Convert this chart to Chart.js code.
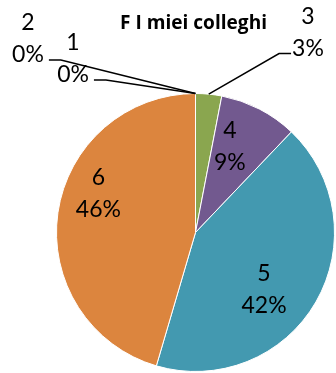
<!DOCTYPE html>
<html><head><meta charset="utf-8">
<script src="https://cdn.jsdelivr.net/npm/chart.js@4/dist/chart.umd.min.js"></script>
<style>html,body{margin:0;padding:0;background:#fff}#wrap{width:336px;height:373px;position:relative}</style>
</head><body><div id="wrap"><canvas id="c" width="336" height="373"></canvas></div>
<script>
const titleText = 'F I miei colleghi';
const categories = ['1', '2', '3', '4', '5', '6'];
const values = [0, 0, 1, 3, 14, 15];
const percentLabels = ['0%', '0%', '3%', '9%', '42%', '46%'];
const sliceColors = ['#4A7EBB', '#BE4B48', '#8AA64F', '#72598F', '#4399B0', '#DC853E'];

const FONT = 'Lato, "Open Sans", sans-serif';
const LABEL_SIZE = 23;
const LINE_GAP = 32;

// label layout (positions relative to the pie geometry)
const labelLayout = [
  {type: 'out', dx: -0.881, dy: -1.255, side: 'left'},
  {type: 'out', dx: -1.205, dy: -1.399, side: 'left'},
  {type: 'out', dx: 0.809, dy: -1.446, side: 'right'},
  {type: 'in', rf: 0.67, da: -5.6},
  {type: 'in', rf: 0.64, da: 9.6},
  {type: 'in', rf: 0.755, da: 14.1}
];

const labelPlugin = {
  id: 'pieLabels',
  afterDatasetsDraw(chart) {
    const ctx = chart.ctx;
    const meta = chart.getDatasetMeta(0);
    ctx.save();
    ctx.fillStyle = '#000';
    ctx.textAlign = 'center';
    ctx.textBaseline = 'alphabetic';
    ctx.font = `${LABEL_SIZE}px ${FONT}`;
    const half = LABEL_SIZE * 0.36;
    meta.data.forEach((arc, i) => {
      const p = arc.getProps(['x', 'y', 'startAngle', 'endAngle', 'outerRadius'], true);
      const R = p.outerRadius;
      const mid = (p.startAngle + p.endAngle) / 2;
      const L = labelLayout[i];
      let cx, cy;
      if (L.type === 'in') {
        const a = mid + L.da * Math.PI / 180;
        cx = p.x + Math.cos(a) * R * L.rf;
        cy = p.y + Math.sin(a) * R * L.rf;
      } else {
        cx = p.x + L.dx * R;
        cy = p.y + L.dy * R;
      }
      const line1 = categories[i];
      const line2 = percentLabels[i];
      ctx.fillText(line1, cx, cy - LINE_GAP / 2 + half);
      ctx.fillText(line2, cx, cy + LINE_GAP / 2 + half);
      if (L.type === 'out') {
        const w = ctx.measureText(line2).width;
        const ly = cy + LINE_GAP / 2 + 6;
        let sx, ex;
        if (L.side === 'left') { sx = cx + w / 2 + 5; ex = sx + 12; }
        else { sx = cx - w / 2 - 1; ex = sx - 12; }
        const tx = p.x + Math.cos(mid) * R;
        const ty = p.y + Math.sin(mid) * R;
        ctx.beginPath();
        ctx.lineWidth = 1.5;
        ctx.strokeStyle = '#000';
        ctx.moveTo(sx, ly);
        ctx.lineTo(ex, ly);
        ctx.lineTo(tx, ty);
        ctx.stroke();
      }
    });
    // title, sized to the reference width
    let ts = 18;
    ctx.font = `bold ${ts}px "Open Sans", Lato, sans-serif`;
    const tw = ctx.measureText(titleText).width;
    ts = Math.min(20, ts * 147 / tw);
    ctx.font = `bold ${ts}px "Open Sans", Lato, sans-serif`;
    ctx.textAlign = 'center';
    ctx.fillText(titleText, 193.5, 22 + ts * 0.36);
    ctx.restore();
  }
};

new Chart(document.getElementById('c'), {
  type: 'pie',
  data: {
    labels: categories,
    datasets: [{
      data: values,
      backgroundColor: sliceColors,
      borderColor: '#ffffff',
      borderWidth: 1
    }]
  },
  options: {
    responsive: false,
    animation: false,
    layout: {padding: {left: 56, right: 1, top: 93, bottom: 1}},
    plugins: {legend: {display: false}, tooltip: {enabled: false}, title: {display: false}}
  },
  plugins: [labelPlugin]
});
</script>
</body></html>
